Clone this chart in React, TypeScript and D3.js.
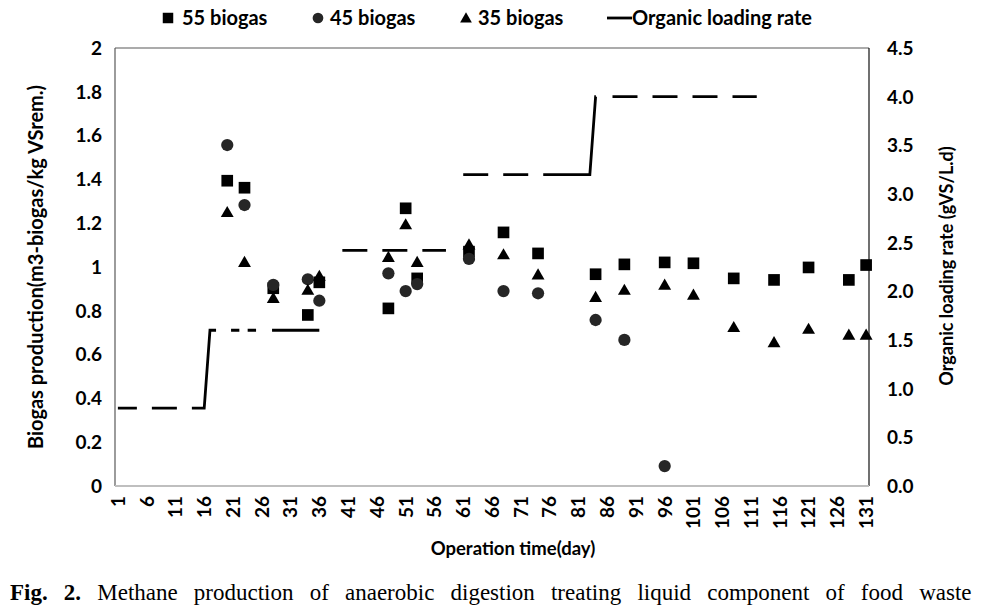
import React from 'react';
import * as d3 from 'd3';

// operation days where biogas was measured
const days = [20, 23, 28, 34, 36, 48, 51, 53, 62, 68, 74, 84, 89, 96, 101, 108, 115, 121, 128, 131];
const biogas55 = [1.394, 1.362, 0.903, 0.781, 0.93, 0.811, 1.268, 0.948, 1.07, 1.158, 1.062, 0.967, 1.012, 1.021, 1.017, 0.948, 0.941, 0.998, 0.941, 1.009];
const biogas45 = [1.557, 1.283, 0.918, 0.944, 0.846, 0.971, 0.89, 0.922, 1.037, 0.89, 0.88, 0.758, 0.667, 0.091];
const biogas35 = [1.245, 1.017, 0.853, 0.89, 0.954, 1.04, 1.189, 1.017, 1.097, 1.052, 0.96, 0.857, 0.89, 0.913, 0.868, 0.72, 0.651, 0.712, 0.685, 0.685];

// organic loading rate, drawn as three connected pieces
const olrDays = [[1, 16, 17, 36], [40, 58], [61, 83, 84, 112]];
const olrRates = [[0.8, 0.8, 1.6, 1.6], [2.42, 2.42], [3.2, 3.2, 4.0, 4.0]];

const leftTicks = [0, 0.2, 0.4, 0.6, 0.8, 1, 1.2, 1.4, 1.6, 1.8, 2];
const rightTicks = [0, 0.5, 1, 1.5, 2, 2.5, 3, 3.5, 4, 4.5];
const allDays = d3.range(1, 132);
const dayLabels = allDays.filter((d) => (d - 1) % 5 === 0);

const W = 984;
const H = 607;
const m = { left: 115, right: 869, top: 48, bottom: 486 };
const font = "Lato, 'Open Sans', sans-serif";

// dash patterns tuned to look like the excel line
const olrDash = [
  '19,15,25,15,96.5,15,8.3,8.3,8.4,16,60',
  '25,15',
  '25,15,25,15,125,16.6,25,15,25,15,25,15,25,15',
];

const App: React.FC = () => {
  const x = d3.scaleBand<number>().domain(allDays).range([m.left, m.right]).paddingInner(0).paddingOuter(0);
  const cx = (d: number) => (x(d) as number) + x.bandwidth() / 2;
  const yL = d3.scaleLinear().domain([0, 2]).range([m.bottom, m.top]);
  const yR = d3.scaleLinear().domain([0, 4.5]).range([m.bottom, m.top]);

  const square = d3.symbol().type(d3.symbolSquare).size(136)();
  const circle = d3.symbol().type(d3.symbolCircle).size(118)();
  const tri = d3.symbol().type(d3.symbolTriangle).size(72)();

  const line = d3.line<[number, number]>()
    .x((p) => cx(p[0]))
    .y((p) => yR(p[1]));

  return (
    <svg width={W} height={H} style={{ position: 'absolute', left: 0, top: 0, background: '#fff' }}>
      {/* plot frame */}
      <line x1={m.left} x2={m.left} y1={m.top} y2={m.bottom} stroke="#595959" strokeWidth={1.2} />
      <line x1={m.left} x2={m.right} y1={m.top} y2={m.top} stroke="#595959" strokeWidth={1.2} />
      <line x1={m.right} x2={m.right} y1={m.top} y2={m.bottom} stroke="#111" strokeWidth={1.2} />
      <line x1={m.left} x2={m.right} y1={m.bottom} y2={m.bottom} stroke="#bfbfbf" strokeWidth={2} />

      {/* left axis */}
      {leftTicks.map((t) => (
        <text key={'l' + t} x={102} y={yL(t)} dy="0.36em" textAnchor="end"
          fontFamily={font} fontWeight="bold" fontSize={19} fill="#000">{String(t)}</text>
      ))}
      {/* right axis */}
      {rightTicks.map((t) => (
        <text key={'r' + t} x={887} y={yR(t)} dy="0.36em" textAnchor="start"
          fontFamily={font} fontWeight="bold" fontSize={19} fill="#000">{t.toFixed(1)}</text>
      ))}
      {/* x axis labels */}
      {dayLabels.map((d) => (
        <text key={'x' + d} transform={`translate(${cx(d)},${496}) rotate(-90)`} dy="0.36em"
          textAnchor="end" fontFamily={font} fontWeight="bold" fontSize={19} fill="#000">{d}</text>
      ))}

      <text x={513} y={555} textAnchor="middle" fontFamily={font} fontWeight="bold" fontSize={18.5}>Operation time(day)</text>
      <text transform={`translate(43,${267}) rotate(-90)`} textAnchor="middle" fontFamily={font} fontWeight="bold" fontSize={20}>
        Biogas production(m3-biogas/kg VSrem.)
      </text>
      <text transform={`translate(953,${266}) rotate(-90)`} textAnchor="middle" fontFamily={font} fontWeight="bold" fontSize={18}>
        Organic loading rate (gVS/L.d)
      </text>

      {/* organic loading rate */}
      {olrDays.map((ds, i) => (
        <path key={'olr' + i} d={line(ds.map((d, j) => [d, olrRates[i][j]]) as [number, number][]) as string}
          fill="none" stroke="#000" strokeWidth={2.8} strokeDasharray={olrDash[i]} />
      ))}

      {/* biogas markers */}
      {biogas55.map((v, i) => (
        <path key={'s' + i} d={square as string} transform={`translate(${cx(days[i])},${yL(v)})`} fill="#000" />
      ))}
      {biogas45.map((v, i) => (
        <path key={'c' + i} d={circle as string} transform={`translate(${cx(days[i])},${yL(v)})`} fill="#262626" />
      ))}
      {biogas35.map((v, i) => (
        <path key={'t' + i} d={tri as string} transform={`translate(${cx(days[i])},${yL(v)})`} fill="#000" />
      ))}

      {/* legend */}
      <g fontFamily={font} fontWeight="bold" fontSize={20}>
        <path d={d3.symbol().type(d3.symbolSquare).size(110)() as string} transform="translate(168,18)" fill="#000" />
        <text x={182} y={18} dy="0.36em">55 biogas</text>
        <path d={d3.symbol().type(d3.symbolCircle).size(90)() as string} transform="translate(318,18)" fill="#262626" />
        <text x={330} y={18} dy="0.36em">45 biogas</text>
        <path d={d3.symbol().type(d3.symbolTriangle).size(60)() as string} transform="translate(466,19)" fill="#000" />
        <text x={478} y={18} dy="0.36em">35 biogas</text>
        <line x1={607} x2={632} y1={18} y2={18} stroke="#000" strokeWidth={2.8} />
        <text x={632} y={18} dy="0.36em">Organic loading rate</text>
      </g>

      {/* caption */}
      <text x={10} y={600} fontFamily="'Liberation Serif', 'DejaVu Serif', serif" fontSize={23} wordSpacing={10.4}>
        <tspan fontWeight="bold">Fig. 2.</tspan> Methane production of anaerobic digestion treating liquid component of food waste
      </text>
    </svg>
  );
};

export default App;
